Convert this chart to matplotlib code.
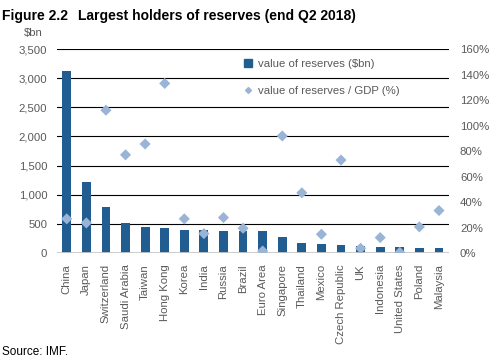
import numpy as np
import matplotlib.pyplot as plt
from matplotlib.lines import Line2D
from matplotlib.ticker import FuncFormatter

plt.rcParams['font.family'] = ['Liberation Sans', 'DejaVu Sans']

countries = ['China', 'Japan', 'Switzerland', 'Saudi Arabia', 'Taiwan', 'Hong Kong',
             'Korea', 'India', 'Russia', 'Brazil', 'Euro Area', 'Singapore', 'Thailand',
             'Mexico', 'Czech Republic', 'UK', 'Indonesia', 'United States', 'Poland',
             'Malaysia']
reserves_bn = [3130, 1220, 790, 515, 445, 422, 392, 400, 373, 380,
               373, 271, 175, 157, 133, 120, 102, 102, 84, 84]
reserves_gdp_pct = [26.8, 23.6, 112, 77, 85.5, 133, 26.8, 15.2, 27.8, 19.4,
                    1.6, 91.8, 47.2, 14.7, 72.9, 3.7, 12.1, 0.5, 20.5, 33.3]

BAR = '#225d91'
DOT = '#9ab4d6'
TXT = '#5a5a5a'

fig = plt.figure(figsize=(4.91, 3.63), dpi=100)
ax = fig.add_axes([0.116, 0.303, 0.798, 0.562])
ax2 = ax.twinx()

x = np.arange(len(countries))
ax.bar(x, reserves_bn, width=0.45, color=BAR, zorder=3)
ax2.scatter(x, np.array(reserves_gdp_pct) / 100, marker='D', s=32, color=DOT,
            edgecolor='none', zorder=4)

ax.set_xlim(-0.5, len(countries) - 0.5)
ax.set_ylim(0, 3500)
ax.set_yticks(np.arange(0, 3501, 500))
ax.yaxis.set_major_formatter(FuncFormatter(lambda v, p: f'{int(v):,}'))
ax2.set_ylim(0, 1.6)
ax2.set_yticks(np.arange(0, 1.61, 0.2))
ax2.yaxis.set_major_formatter(FuncFormatter(lambda v, p: f'{v * 100:.0f}%'))

for g in np.arange(500, 3501, 500):
    ax.axhline(g, color='black', lw=0.8, zorder=1)
ax.axhline(0, color='#c8c8c8', lw=2, zorder=5)

for a in (ax, ax2):
    for s in a.spines.values():
        s.set_visible(False)
    a.tick_params(length=0, labelsize=8.2, labelcolor=TXT)
ax.tick_params(axis='y', pad=7)
ax2.tick_params(axis='y', pad=8)

ax.set_xticks(x)
ax.set_xticklabels(countries, rotation=90, fontsize=8.2, color=TXT)
ax.tick_params(axis='x', pad=8)

fig.text(43 / 491, 1 - 38 / 363, '$bn', ha='right', va='bottom', fontsize=8.2, color=TXT)

handles = [Line2D([], [], ls='none', marker='s', markersize=6, color=BAR),
           Line2D([], [], ls='none', marker='D', markersize=3, color=DOT)]
ax2.legend(handles, ['value of reserves ($bn)', 'value of reserves / GDP (%)'],
           loc='upper left', bbox_to_anchor=(0.447, 1.0), frameon=False,
           fontsize=8.2, labelcolor=TXT, handletextpad=0.4, labelspacing=1.45,
           handlelength=1)

fig.text(0.004, 0.975, 'Figure 2.2', fontsize=10, fontweight='bold', va='top')
fig.text(0.158, 0.975, 'Largest holders of reserves (end Q2 2018)', fontsize=10,
         fontweight='bold', va='top')
fig.text(0.004, 0.015, 'Source: IMF.', fontsize=8.5, va='bottom')

fig.savefig('out.png', dpi=100)
